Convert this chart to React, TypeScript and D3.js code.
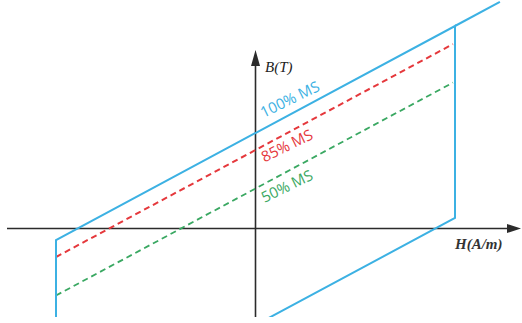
import React from "react";
import * as d3 from "d3";

// Schematic B-H loop of a magnetostrictive material at different magnetisation states
const H_RANGE: [number, number] = [-2, 2];

// Hysteresis loop (100% MS): [H, B] vertices, drawn as one polyline
const loopPoints: [number, number][] = [
  [-2, -0.9],
  [-2, -0.115],
  [2, 2.025],
  [2, 0.105],
  [0.1, -0.912],
];
// Extension of the upper branch beyond saturation
const upperExtension: [number, number][] = [
  [2, 2.025],
  [2.45, 2.266],
];
// Partial magnetisation lines (dashed)
const line85: [number, number][] = [
  [-2, -0.285],
  [1.98, 1.844],
];
const line50: [number, number][] = [
  [-2, -0.67],
  [1.98, 1.459],
];

const labels = [
  { text: "100% MS", h: 0.08, b: 1.105, color: "#3cb1e3" },
  { text: "85% MS", h: 0.09, b: 0.66, color: "#e5383c" },
  { text: "50% MS", h: 0.09, b: 0.255, color: "#3aa862" },
];

const W = 522;
const H = 323;

export default function App() {
  const x = d3.scaleLinear().domain(H_RANGE).range([56, 455]);
  const y = d3.scaleLinear().domain([0, 1]).range([228.5, 128.5]);
  const line = d3
    .line<[number, number]>()
    .x((d) => x(d[0]))
    .y((d) => y(d[1]));

  const x0 = x(0);
  const y0 = y(0);
  const blue = "#3cb1e3";
  const axis = "#2b2b2b";

  return (
    <svg
      width={W}
      height={H}
      style={{ position: "absolute", left: 0, top: 0, background: "#fff" }}
    >
      <defs>
        <clipPath id="plot">
          <rect x={0} y={0} width={W} height={317} />
        </clipPath>
      </defs>
      <g clipPath="url(#plot)">
        {/* axes */}
        <line x1={7} x2={510} y1={y0} y2={y0} stroke={axis} strokeWidth={1.6} />
        <path d={`M521,${y0} L507,${y0 - 4.5} L507,${y0 + 4.5} Z`} fill={axis} />
        <line x1={x0} x2={x0} y1={64} y2={320} stroke={axis} strokeWidth={1.6} />
        <path d={`M${x0},50 L${x0 - 4.5},66 L${x0 + 4.5},66 Z`} fill={axis} />

        {/* dashed partial loops */}
        <path
          d={line(line85) ?? ""}
          fill="none"
          stroke="#e5383c"
          strokeWidth={2}
          strokeDasharray="6 4"
        />
        <path
          d={line(line50) ?? ""}
          fill="none"
          stroke="#3aa862"
          strokeWidth={1.8}
          strokeDasharray="6 4"
        />

        {/* full loop */}
        <path
          d={line(loopPoints) ?? ""}
          fill="none"
          stroke={blue}
          strokeWidth={2}
          strokeLinejoin="miter"
        />
        <path d={line(upperExtension) ?? ""} fill="none" stroke={blue} strokeWidth={2} />
      </g>

      {/* axis titles */}
      <text
        x={265}
        y={72}
        fontFamily="Liberation Serif, serif"
        fontStyle="italic"
        fontSize={15}
        fill="#222"
      >
        B(T)
      </text>
      <text
        x={455}
        y={249}
        fontFamily="Liberation Serif, serif"
        fontStyle="italic"
        fontWeight="bold"
        fontSize={15}
        fill="#333"
      >
        H(A/m)
      </text>

      {labels.map((l) => (
        <text
          key={l.text}
          transform={`translate(${x(l.h)},${y(l.b)}) rotate(-26)`}
          fontFamily="Open Sans, sans-serif"
          fontSize={15}
          fill={l.color}
        >
          {l.text}
        </text>
      ))}
    </svg>
  );
}
